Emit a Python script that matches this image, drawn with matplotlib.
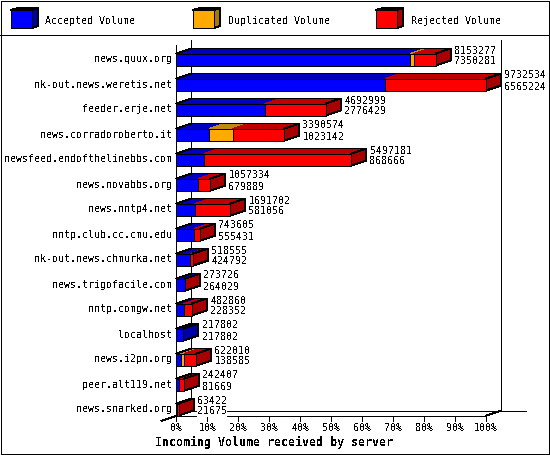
import matplotlib
matplotlib.use('Agg')
import matplotlib.pyplot as plt
from matplotlib.patches import Polygon, Rectangle
import numpy as np

servers = ['news.quux.org', 'nk-out.news.weretis.net', 'feeder.erje.net',
           'news.corradoroberto.it', 'newsfeed.endofthelinebbs.com',
           'news.novabbs.org', 'news.nntp4.net', 'nntp.club.cc.cmu.edu',
           'nk-out.news.chmurka.net', 'news.trigofacile.com', 'nntp.comgw.net',
           'localhost', 'news.i2pn.org', 'peer.alt119.net', 'news.snarked.org']
total = [8153277, 9732534, 4692999, 3390574, 5497181, 1057334, 1691702, 743605,
         518555, 273726, 482860, 217802, 622010, 242407, 63422]
accepted = [7350281, 6565224, 2776429, 1023142, 868666, 679889, 581056, 555431,
            424792, 264029, 228352, 217802, 138585, 81669, 21675]
# duplicated volume is only readable from the bar widths
duplicated = [116000, 0, 0, 750000, 0, 0, 0, 0, 0, 0, 0, 0, 110000, 0, 0]
ticks = [0, 10, 20, 30, 40, 50, 60, 70, 80, 90, 100]

BLUE = ('#0000ff', '#0000c0', '#0000a8')
ORANGE = ('#ffaa00', '#c08a10', '#a87800')
RED = ('#ff0000', '#c00000', '#a80000')

plt.rcParams['font.family'] = ['DejaVu Sans Mono']
plt.rcParams['text.antialiased'] = False

W, H = 550, 455
X0, PX_PCT = 176.5, 3.095   # pixel of 0%, pixels per percent
Y0, PX_ROW = 59.5, 25.0     # pixel of first row centre, pixels per row
DX = 15 / PX_PCT            # depth of the 3d effect
DY = 5 / PX_ROW
HALF = 6 / PX_ROW
LW = 0.72                   # one pixel at dpi 100
FS = 7.2

fig = plt.figure(figsize=(W / 100, H / 100), dpi=100)

# chrome is in plain pixels
page = fig.add_axes([0, 0, 1, 1])
page.set_xlim(0, W)
page.set_ylim(H, 0)
page.axis('off')
page.add_patch(Rectangle((0.5, 0.5), 548, 453.5, fc='white', ec='black', lw=LW, antialiased=False))
page.plot([0, 549], [35, 35], color='black', lw=LW, antialiased=False)


def legend_box(x, colors, text, text_x):
    front = [(x, 10), (x + 21, 10), (x + 21, 28), (x, 28)]
    top = [(x, 10), (x + 7, 8), (x + 27, 8), (x + 21, 10)]
    side = [(x + 21, 10), (x + 27, 8), (x + 27, 26), (x + 21, 28)]
    for pts, col in zip((top, side, front), (colors[1], colors[2], colors[0])):
        page.add_patch(Polygon(pts, fc=col, ec='black', lw=LW, antialiased=False))
    page.text(text_x, 20.5, text, fontsize=FS, va='center', ha='left')


legend_box(11, BLUE, 'Accepted Volume', 45)
legend_box(193, ORANGE, 'Duplicated Volume', 228)
legend_box(376, RED, 'Rejected Volume', 411)

page.text(274, 442, 'Incoming Volume received by server', fontsize=8.4,
          fontweight='bold', ha='center', va='center')

# the chart itself: x in percent of the largest total, y in rows
ax = fig.add_axes([0, 0, 1, 1])
ax.set_xlim(-X0 / PX_PCT, (W - X0) / PX_PCT)
ax.set_ylim((H - Y0) / PX_ROW, -Y0 / PX_ROW)
ax.axis('off')
ax.patch.set_alpha(0)

y_floor = (415.7 - Y0) / PX_ROW
y_head = (45 - Y0) / PX_ROW
line = dict(color='black', lw=LW, antialiased=False)

ax.plot([DX, DX], [y_head - DY, y_floor - DY], **line)
ax.plot([100 + DX, 100 + DX], [y_head - DY, y_floor - DY], **line)
ax.plot([DX, 100 + DX + 8], [y_floor - DY, y_floor - DY], **line)
ax.plot([0, 100], [y_floor, y_floor], **line)
ax.plot([0, 0], [y_head, y_floor], **line)
ax.plot([-DX, DX], [y_floor + DY, y_floor - DY], **line)
ax.plot([100, 100 + DX], [y_floor, y_floor - DY], **line)

for t in ticks:
    ax.plot([t, t], [y_floor, y_floor + DY], **line)
    ax.text(t, y_floor + 0.5, f'{t}%', fontsize=FS, ha='center', va='center')

biggest = max(total)
for i, name in enumerate(servers):
    a = accepted[i] / biggest * 100
    d = duplicated[i] / biggest * 100
    end = total[i] / biggest * 100
    edges = [(0, a, BLUE), (a, a + d, ORANGE), (a + d, end, RED)]
    y_top, y_bot = i - HALF, i + HALF
    for left, right, colors in edges:
        if right <= left:
            continue
        ax.add_patch(Polygon([(left, y_top), (left + DX, y_top - DY), (right + DX, y_top - DY), (right, y_top)],
                             fc=colors[1], ec='none', antialiased=False, zorder=3))
    # outline of the top face, without inner seams
    ax.plot([0, DX, end + DX, end], [y_top, y_top - DY, y_top - DY, y_top], zorder=4, **line)
    side_col = [e[2] for e in edges if e[1] > e[0]][-1][2]
    ax.add_patch(Polygon([(end, y_top), (end + DX, y_top - DY), (end + DX, y_bot - DY), (end, y_bot)],
                         fc=side_col, ec='black', lw=LW, antialiased=False, zorder=4))
    for left, right, colors in edges:
        if right <= left:
            continue
        ax.add_patch(Rectangle((left, y_top), right - left, y_bot - y_top,
                               fc=colors[0], ec='black', lw=LW, antialiased=False, zorder=5))
    ax.text(-4 / PX_PCT, i, name, fontsize=FS, ha='right', va='center', zorder=6)
    x_lab = end + DX + 3.5 / PX_PCT
    ax.text(x_lab, i - 0.36, str(total[i]), fontsize=FS, ha='left', va='center', zorder=6,
            bbox=dict(fc='white', ec='none', pad=0))
    ax.text(x_lab, i + 0.08, str(accepted[i]), fontsize=FS, ha='left', va='center', zorder=6,
            bbox=dict(fc='white', ec='none', pad=0))

fig.savefig('out.png', dpi=100)
